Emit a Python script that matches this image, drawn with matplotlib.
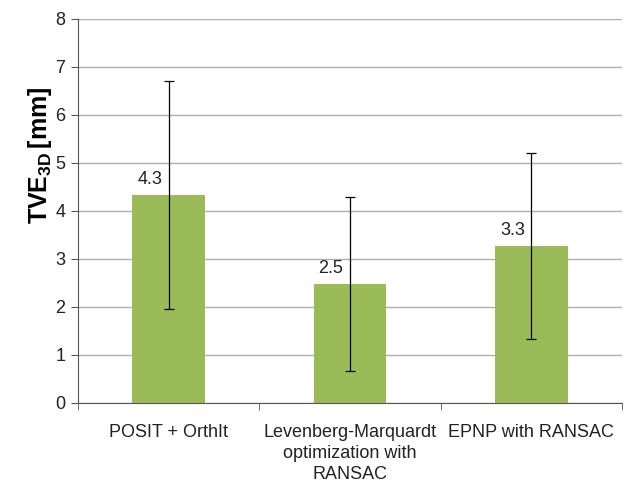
import numpy as np
import matplotlib.pyplot as plt

plt.rcParams['font.family'] = ['Liberation Sans', 'DejaVu Sans']
plt.rcParams['mathtext.fontset'] = 'custom'
plt.rcParams['mathtext.rm'] = 'Liberation Sans'
plt.rcParams['mathtext.bf'] = 'Liberation Sans:bold'

methods = ['POSIT + OrthIt', 'Levenberg-Marquardt\noptimization with\nRANSAC', 'EPNP with RANSAC']
means = [4.33, 2.48, 3.27]
errs = [2.38, 1.81, 1.94]
labels = ['4.3', '2.5', '3.3']

fig = plt.figure(figsize=(6.29, 4.82), dpi=100)
ax = fig.add_axes([0.124, 0.164, 0.865, 0.797])

x = np.arange(len(methods))
ax.bar(x, means, width=0.4, color='#9BBB59', zorder=2)
ax.errorbar(x, means, yerr=errs, fmt='none', ecolor='black', elinewidth=0.9,
            capsize=3.5, capthick=0.9, zorder=3)
for xi, m, lab in zip(x, means, labels):
    ax.text(xi - 0.105, m + 0.15, lab, ha='center', va='bottom', fontsize=13, color='#222222')

ax.set_xlim(-0.5, 2.5)
ax.set_ylim(0, 8)
ax.set_yticks(range(9))
ax.yaxis.grid(True, color='#b0b0b0', linewidth=1, zorder=0)
ax.set_axisbelow(True)

ax.set_xticks(x)
ax.set_xticklabels(methods, fontsize=13, color='#222222', linespacing=1.3)
ax.tick_params(axis='x', length=0, pad=15)
ax.set_xticks([-0.5, 0.5, 1.5, 2.5], minor=True)
ax.tick_params(axis='x', which='minor', length=5, color='#555555')
ax.tick_params(axis='y', length=5, pad=4, color='#555555', labelsize=13, labelcolor='#222222')

for s in ['top', 'right']:
    ax.spines[s].set_visible(False)
for s in ['left', 'bottom']:
    ax.spines[s].set_color('#555555')

ax.set_ylabel(r'$\mathbf{TVE_{3D}\,[mm]}$', fontsize=18)
ax.yaxis.set_label_coords(-0.045, 0.645)

fig.savefig('out.png', dpi=100)
